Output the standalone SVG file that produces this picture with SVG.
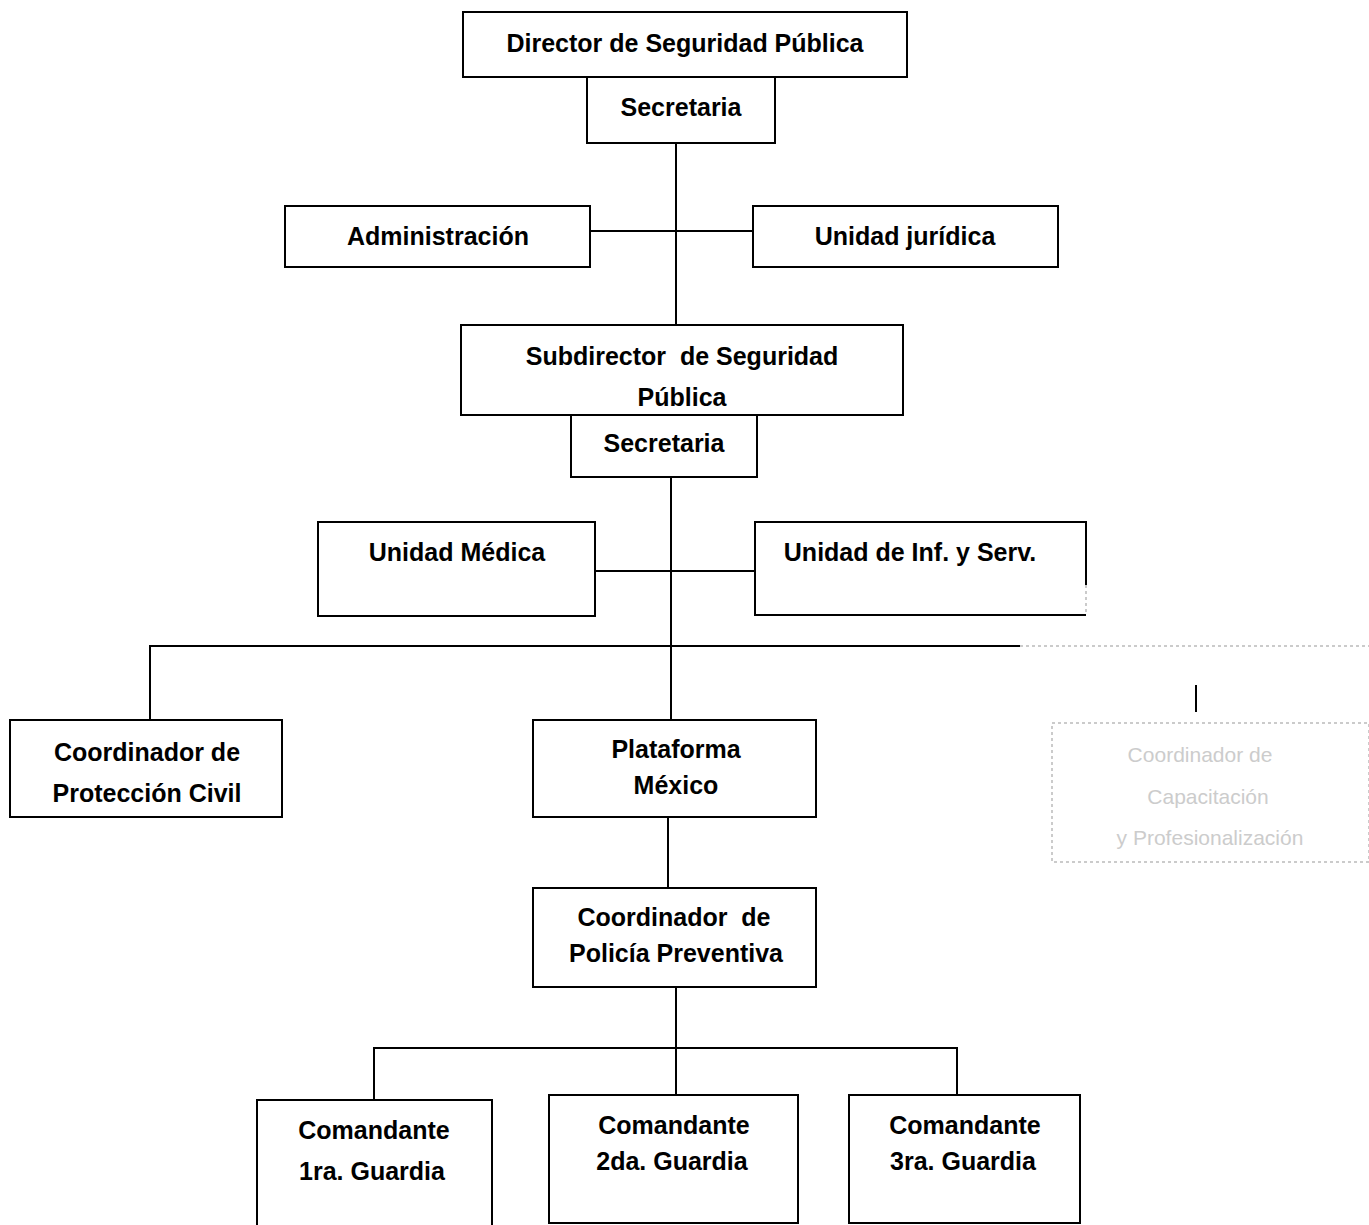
<svg xmlns="http://www.w3.org/2000/svg" width="1369" height="1225" viewBox="0 0 1369 1225">
<style>
.b{fill:#fff;stroke:#000;stroke-width:2}
.t{font-family:"Liberation Sans",Arial,sans-serif;font-weight:bold;font-size:25px;fill:#000;text-anchor:middle}
.c{fill:none;stroke:#000;stroke-width:2}
.f{fill:none;stroke:#bbb;stroke-width:1.5;stroke-dasharray:3 3}
.ft{font-family:"Liberation Sans",Arial,sans-serif;font-size:21px;fill:#ccc;text-anchor:middle}
</style>
<rect width="1369" height="1225" fill="#fff"/>
<g id="connectors">
<path class="c" d="M676 143V325M590 231H753"/>
<path class="c" d="M671 477V720M595 571H755"/>
<path class="c" d="M150 720V646H1020"/>
<path class="f" d="M1020 646H1369"/>
<path class="c" d="M1196 685V712" stroke-width="1.5"/>
<path class="c" d="M668 817V888"/>
<path class="c" d="M676 987V1095M374 1100V1048H957V1095"/>
</g>
<g id="director"><rect class="b" x="463" y="12" width="444" height="65"/><text class="t" x="685" y="52">Director de Seguridad Pública</text></g>
<g id="secretaria1"><rect class="b" x="587" y="77" width="188" height="66"/><text class="t" x="681" y="116">Secretaria</text></g>
<g id="administracion"><rect class="b" x="285" y="206" width="305" height="61"/><text class="t" x="438" y="245">Administración</text></g>
<g id="unidad-juridica"><rect class="b" x="753" y="206" width="305" height="61"/><text class="t" x="905" y="245">Unidad jurídica</text></g>
<g id="subdirector"><rect class="b" x="461" y="325" width="442" height="90"/><text class="t" x="682" y="365" xml:space="preserve">Subdirector  de Seguridad</text><text class="t" x="682" y="406">Pública</text></g>
<g id="secretaria2"><rect class="b" x="571" y="415" width="186" height="62"/><text class="t" x="664" y="452">Secretaria</text></g>
<g id="unidad-medica"><rect class="b" x="318" y="522" width="277" height="94"/><text class="t" x="457" y="561">Unidad Médica</text></g>
<g id="unidad-inf"><path class="c" d="M1086 585V522H755V615H1086"/><path class="f" d="M1086 585V615"/><text class="t" x="910" y="561">Unidad de Inf. y Serv.</text></g>
<g id="proteccion-civil"><rect class="b" x="10" y="720" width="272" height="97"/><text class="t" x="147" y="761">Coordinador de</text><text class="t" x="147" y="802">Protección Civil</text></g>
<g id="plataforma"><rect class="b" x="533" y="720" width="283" height="97"/><text class="t" x="676" y="758">Plataforma</text><text class="t" x="676" y="794">México</text></g>
<g id="capacitacion"><rect class="f" x="1052" y="723" width="317" height="139"/><text class="ft" x="1200" y="762">Coordinador de</text><text class="ft" x="1208" y="804">Capacitación</text><text class="ft" x="1210" y="845">y Profesionalización</text></g>
<g id="policia-preventiva"><rect class="b" x="533" y="888" width="283" height="99"/><text class="t" x="674" y="926" xml:space="preserve">Coordinador  de</text><text class="t" x="676" y="962">Policía Preventiva</text></g>
<g id="comandante1"><rect class="b" x="257" y="1100" width="235" height="130"/><text class="t" x="374" y="1139">Comandante</text><text class="t" x="372" y="1180">1ra. Guardia</text></g>
<g id="comandante2"><rect class="b" x="549" y="1095" width="249" height="128"/><text class="t" x="674" y="1134">Comandante</text><text class="t" x="672" y="1170">2da. Guardia</text></g>
<g id="comandante3"><rect class="b" x="849" y="1095" width="231" height="128"/><text class="t" x="965" y="1134">Comandante</text><text class="t" x="963" y="1170">3ra. Guardia</text></g>
</svg>
